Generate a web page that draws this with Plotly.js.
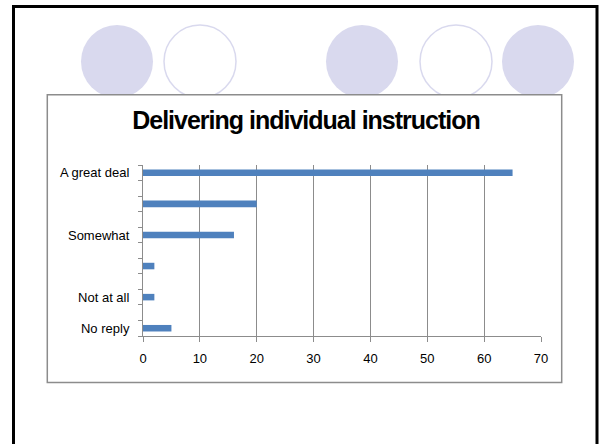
<!DOCTYPE html>
<html>
<head>
<meta charset="utf-8">
<script src="https://cdn.plot.ly/plotly-3.0.1.min.js"></script>
<style>
  html, body { margin: 0; padding: 0; background: #ffffff; }
  #chart { width: 602px; height: 444px; }
  .gtitle { letter-spacing: -1px; }
</style>
</head>
<body>
<div id="chart"></div>
<script>
// ---- data ----
const categories = ["A great deal", "", "", "", "Somewhat", "", "", "", "Not at all", "", "No reply"];
const values = [65, null, 20, null, 16, null, 2, null, 2, null, 5];
const xTickVals = [0, 10, 20, 30, 40, 50, 60, 70];
const chartTitle = "Delivering individual instruction";

// ---- layout geometry (pixels) ----
const FIG_W = 602, FIG_H = 444;
const L = 143, R = 61, T = 165, B = 108;
const PW = FIG_W - L - R, PH = FIG_H - T - B;
const fx = px => (px - L) / PW;
const fy = py => 1 - (py - T) / PH;

const lavender = '#d9d9ee';
const shapes = [];
// slide border
shapes.push({type: 'rect', xref: 'paper', yref: 'paper', layer: 'below',
  x0: fx(13.5), x1: fx(597), y0: fy(6.5), y1: fy(470),
  line: {color: '#000000', width: 3}, fillcolor: 'rgba(0,0,0,0)'});
// decorative circles
const circleCenters = [117, 200, 362, 456, 538];
const circleFilled = [true, false, true, false, true];
circleCenters.forEach((cx, i) => {
  shapes.push({type: 'circle', xref: 'paper', yref: 'paper', layer: 'below',
    x0: fx(cx - 36), x1: fx(cx + 36), y0: fy(25), y1: fy(98),
    line: {color: lavender, width: circleFilled[i] ? 0 : 1.5},
    fillcolor: circleFilled[i] ? lavender : 'rgba(0,0,0,0)'});
});
// chart box
shapes.push({type: 'rect', xref: 'paper', yref: 'paper', layer: 'below',
  x0: fx(47.3), x1: fx(561.7), y0: fy(94.7), y1: fy(382.5),
  line: {color: '#8c8c8c', width: 1.5}, fillcolor: '#ffffff'});

const yIdx = categories.map((_, i) => i);
const boundaries = [];
for (let i = 0; i <= categories.length; i++) boundaries.push(i - 0.5);

const trace = {
  type: 'bar', orientation: 'h',
  x: values, y: yIdx,
  width: 0.42,
  marker: {color: '#4f81bd', line: {width: 0}},
  hoverinfo: 'x'
};

const layout = {
  width: FIG_W, height: FIG_H,
  margin: {l: L, r: R, t: T, b: B, pad: 0},
  paper_bgcolor: '#ffffff', plot_bgcolor: 'rgba(0,0,0,0)',
  showlegend: false,
  font: {family: 'Liberation Sans, Arial, sans-serif', color: '#000000', size: 13},
  title: {
    text: chartTitle,
    xref: 'container', yref: 'container',
    x: 306 / FIG_W, y: 1 - 120 / FIG_H,
    xanchor: 'center', yanchor: 'middle',
    font: {family: 'Liberation Sans, Arial, sans-serif', size: 25, weight: 'bold', color: '#000000'}
  },
  xaxis: {
    range: [0, 70], tickmode: 'array', tickvals: xTickVals,
    showgrid: true, gridcolor: '#8c8c8c', gridwidth: 1,
    zeroline: false, showline: true, linecolor: '#8c8c8c', linewidth: 1,
    ticks: 'outside', ticklen: 5, tickcolor: '#8c8c8c', tickwidth: 1,
    ticklabelstandoff: 5,
    tickfont: {size: 13, color: '#000000'},
    fixedrange: true
  },
  yaxis: {
    range: [categories.length - 0.5, -0.5],
    tickmode: 'array', tickvals: yIdx, ticktext: categories,
    showgrid: false, zeroline: false,
    showline: true, linecolor: '#8c8c8c', linewidth: 1,
    ticks: '',
    minor: {tickmode: 'array', tickvals: boundaries, ticks: 'outside', ticklen: 4, tickcolor: '#8c8c8c', tickwidth: 1, showgrid: false},
    ticklabelstandoff: 10,
    tickfont: {size: 13, color: '#000000'},
    fixedrange: true
  },
  shapes: shapes
};

Plotly.newPlot('chart', [trace], layout, {displayModeBar: false, staticPlot: true});
</script>
</body>
</html>
